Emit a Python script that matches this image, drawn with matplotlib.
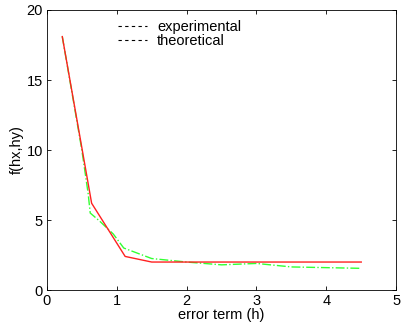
import numpy as np
import matplotlib.pyplot as plt
from matplotlib.lines import Line2D

plt.rcParams['font.family'] = ['Liberation Sans', 'DejaVu Sans']
plt.rcParams['font.size'] = 10.5

# theoretical curve (red, solid)
h_theo = [0.22, 0.64, 1.12, 1.5, 1.67, 4.5]
f_theo = [18.1, 6.2, 2.4, 2.0, 2.0, 2.0]

# experimental curve (green, dash-dot)
h_exp = [0.22, 0.4, 0.5, 0.59, 0.62, 0.76, 0.95, 1.1, 1.5, 2.0, 2.5, 3.0, 3.5, 4.0, 4.5]
f_exp = [18.1, 12.9, 10.0, 6.9, 5.5, 4.9, 4.0, 3.0, 2.25, 2.0, 1.8, 1.9, 1.65, 1.6, 1.55]

fig = plt.figure(figsize=(4.01, 3.33), dpi=100)
ax = fig.add_axes([0.117, 0.129, 0.871, 0.841])

ax.plot(h_exp, f_exp, color='#33ff33', ls='-.', lw=1)
ax.plot(h_theo, f_theo, color='#ff2020', ls='-', lw=1)

ax.set_xlim(0, 5)
ax.set_ylim(0, 20)
ax.set_xticks([0, 1, 2, 3, 4, 5])
ax.set_yticks([0, 5, 10, 15, 20])
ax.tick_params(direction='in', top=True, right=True, length=3, width=0.6, pad=3)
for s in ax.spines.values():
    s.set_linewidth(0.6)

ax.set_xlabel('error term (h)', labelpad=0)
ax.set_ylabel('f(hx,hy)', labelpad=2)

# legend drawn as in the original: black dashed samples
handles = [Line2D([], [], color='k', ls=(0, (3, 3)), lw=0.8),
           Line2D([], [], color='k', ls=(0, (3, 3)), lw=0.8)]
ax.legend(handles, ['experimental', 'theoretical'], loc='upper left',
          bbox_to_anchor=(0.173, 1.0), frameon=False, handlelength=2.0,
          handletextpad=0.7, labelspacing=0.0, borderaxespad=0.3)

fig.savefig('out.png', dpi=100)
